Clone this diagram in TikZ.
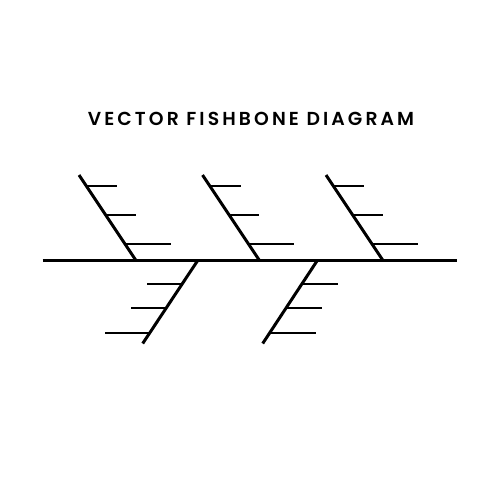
\documentclass[tikz,border=0pt]{standalone}
\usepackage{fontspec}
\newfontfamily\titlefont[LetterSpace=16.5]{Poppins SemiBold}
\begin{document}
\begin{tikzpicture}[x=1pt,y=-1pt,
  bone/.style={line width=3pt},
  tick/.style={line width=2pt}]
\useasboundingbox (0,0) rectangle (500,500);
\node (title) at (251,118.7) {\titlefont\fontsize{18.8}{20}\selectfont VECTOR FISHBONE DIAGRAM};
% spine
\coordinate (sL) at (42.5,260.5);
\coordinate (sR) at (457,260.5);
\draw[bone] (sL) -- (sR);
% upper bones
\foreach \i/\d in {1/0,2/123.5,3/247}{
  \coordinate (ut\i) at ({79+\d},175);
  \coordinate (ub\i) at ({136+\d},260.5);
  \draw[bone] (ut\i) -- (ub\i);
  \coordinate (ua\i) at ({86.2+\d},185.7);
  \coordinate (uae\i) at ({117+\d},185.7);
  \coordinate (ub2\i) at ({105.8+\d},215);
  \coordinate (ube\i) at ({135.7+\d},215);
  \coordinate (uc\i) at ({125.3+\d},244.3);
  \coordinate (uce\i) at ({170.7+\d},244.3);
  \draw[tick] (ua\i) -- (uae\i);
  \draw[tick] (ub2\i) -- (ube\i);
  \draw[tick] (uc\i) -- (uce\i);
}
% lower bone A (ticks to the left)
\coordinate (lat) at (197.7,260.5);
\coordinate (lab) at (142.7,343.5);
\draw[bone] (lat) -- (lab);
\coordinate (la1) at (181.8,284); \coordinate (la1e) at (147.3,284);
\coordinate (la2) at (165.9,308); \coordinate (la2e) at (130.7,308);
\coordinate (la3) at (149.3,333); \coordinate (la3e) at (105,333);
\draw[tick] (la1) -- (la1e);
\draw[tick] (la2) -- (la2e);
\draw[tick] (la3) -- (la3e);
% lower bone B (ticks to the right)
\coordinate (lbt) at (317.3,260.5);
\coordinate (lbb) at (262.7,343.5);
\draw[bone] (lbt) -- (lbb);
\coordinate (lb1) at (301.4,284); \coordinate (lb1e) at (338.3,284);
\coordinate (lb2) at (285.5,308); \coordinate (lb2e) at (321.7,308);
\coordinate (lb3) at (268.9,333); \coordinate (lb3e) at (316,333);
\draw[tick] (lb1) -- (lb1e);
\draw[tick] (lb2) -- (lb2e);
\draw[tick] (lb3) -- (lb3e);
\end{tikzpicture}
\end{document}
